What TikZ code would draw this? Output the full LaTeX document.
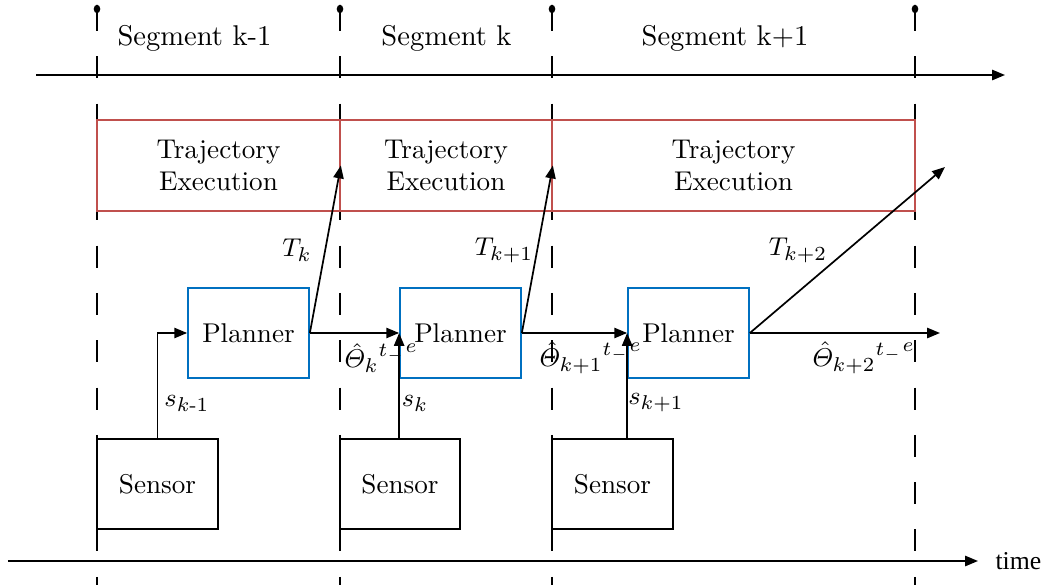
\documentclass[tikz,border=0pt]{standalone}
\usepackage{amsmath}
\usepackage{fontspec}
\newfontfamily\timesfont{Liberation Serif}
\usetikzlibrary{arrows.meta}
\definecolor{redc}{RGB}{192,80,77}
\definecolor{bluec}{RGB}{0,112,192}
\newcommand{\thsup}{{}^{t_{-}\mkern1mu\raisebox{0.35ex}{$\scriptstyle e$}}}
\begin{document}
\begin{tikzpicture}[x=0.35pt,y=-0.35pt,
  every node/.style={font=\fontsize{9.5}{11}\selectfont},
  arr/.style={line width=0.6pt,-{Triangle[length=4.5pt,width=3.6pt]}},
  traj/.style={draw=redc,line width=0.6pt,minimum height=31.85pt,inner sep=0pt,align=center},
  planner/.style={draw=bluec,line width=0.6pt,minimum width=42.35pt,minimum height=31.5pt,inner sep=0pt},
  sensorbox/.style={draw=black,line width=0.6pt,minimum width=42.35pt,minimum height=31.5pt,inner sep=0pt},
  divider/.style={dash pattern=on 7.7pt off 8.86pt,line width=0.6pt},
  lbl/.style={inner sep=0pt},
  seglabel/.style={font=\fontsize{10}{12}\selectfont}
]
\useasboundingbox (0,0) rectangle (1048,585);

% dividers
\foreach \x in {97,340,552,915} {
  \draw[divider] (\x,9) -- (\x,585);
  \fill (\x,9) ellipse [x radius=1.15pt, y radius=1.5pt];
}

% segment labels
\node[seglabel] (sg1) at (194.5,38) {Segment k-1};
\node[seglabel] (sg2) at (446.5,38) {Segment k};
\node[seglabel] (sg3) at (725,38) {Segment k+1};

% top timeline
\coordinate (ta0) at (36,75);
\coordinate (ta1) at (1005,75);
\draw[arr] (ta0) -- (ta1);

% trajectory execution boxes
\node[traj,minimum width=85.05pt] (te1) at (218.5,165.5) {Trajectory\\Execution};
\node[traj,minimum width=74.2pt] (te2) at (446,165.5) {Trajectory\\Execution};
\node[traj,minimum width=127.05pt] (te3) at (733.5,165.5) {Trajectory\\Execution};

% planners
\node[planner] (p1) at (248.5,333) {Planner};
\node[planner] (p2) at (460.5,333) {Planner};
\node[planner] (p3) at (688.5,333) {Planner};

% sensors
\node[sensorbox] (s1) at (157.5,484) {Sensor};
\node[sensorbox,minimum width=42pt] (s2) at (400,484) {Sensor};
\node[sensorbox] (s3) at (612.5,484) {Sensor};

% sensor to planner
\draw[arr] (s1.north) |- (p1.west);
\draw[arr] (p2.west |- s2.north) -- (p2.west);
\draw[arr] (p3.west |- s3.north) -- (p3.west);

% planner chain
\draw[arr] (p1.east) -- (p2.west);
\draw[arr] (p2.east) -- (p3.west);
\coordinate (o3) at (940,333);
\draw[arr] (p3.east) -- (o3);

% trajectories
\draw[arr] (p1.east) -- (te1.east);
\draw[arr] (p2.east) -- (te2.east);
\coordinate (t3) at (945,167);
\draw[arr] (p3.east) -- (t3);

% labels
\node[lbl] (lsa) at (187,403) {$s_{k\text{-}1}$};
\node[lbl] (lsb) at (415,403) {$s_k$};
\node[lbl] (lsc) at (656,403) {$s_{k+1}$};
\node[lbl] (lta) at (297,250) {$T_k$};
\node[lbl] (ltb) at (504,250) {$T_{k+1}$};
\node[lbl] (ltc) at (798,250) {$T_{k+2}$};
\node[lbl,anchor=west] (lha) at (344,358) {$\hat{\varTheta}_{k}\thsup$};
\node[lbl,anchor=west] (lhb) at (539,358) {$\hat{\varTheta}_{k+1}\thsup$};
\node[lbl,anchor=west] (lhc) at (812,358) {$\hat{\varTheta}_{k+2}\thsup$};

% bottom time axis
\coordinate (tb0) at (8,561);
\coordinate (tb1) at (978,561);
\draw[arr] (tb0) -- (tb1);
\node[anchor=west,inner sep=0pt,font={\timesfont\fontsize{9}{11}\selectfont}] (time) at (995,561) {time};
\end{tikzpicture}
\end{document}
